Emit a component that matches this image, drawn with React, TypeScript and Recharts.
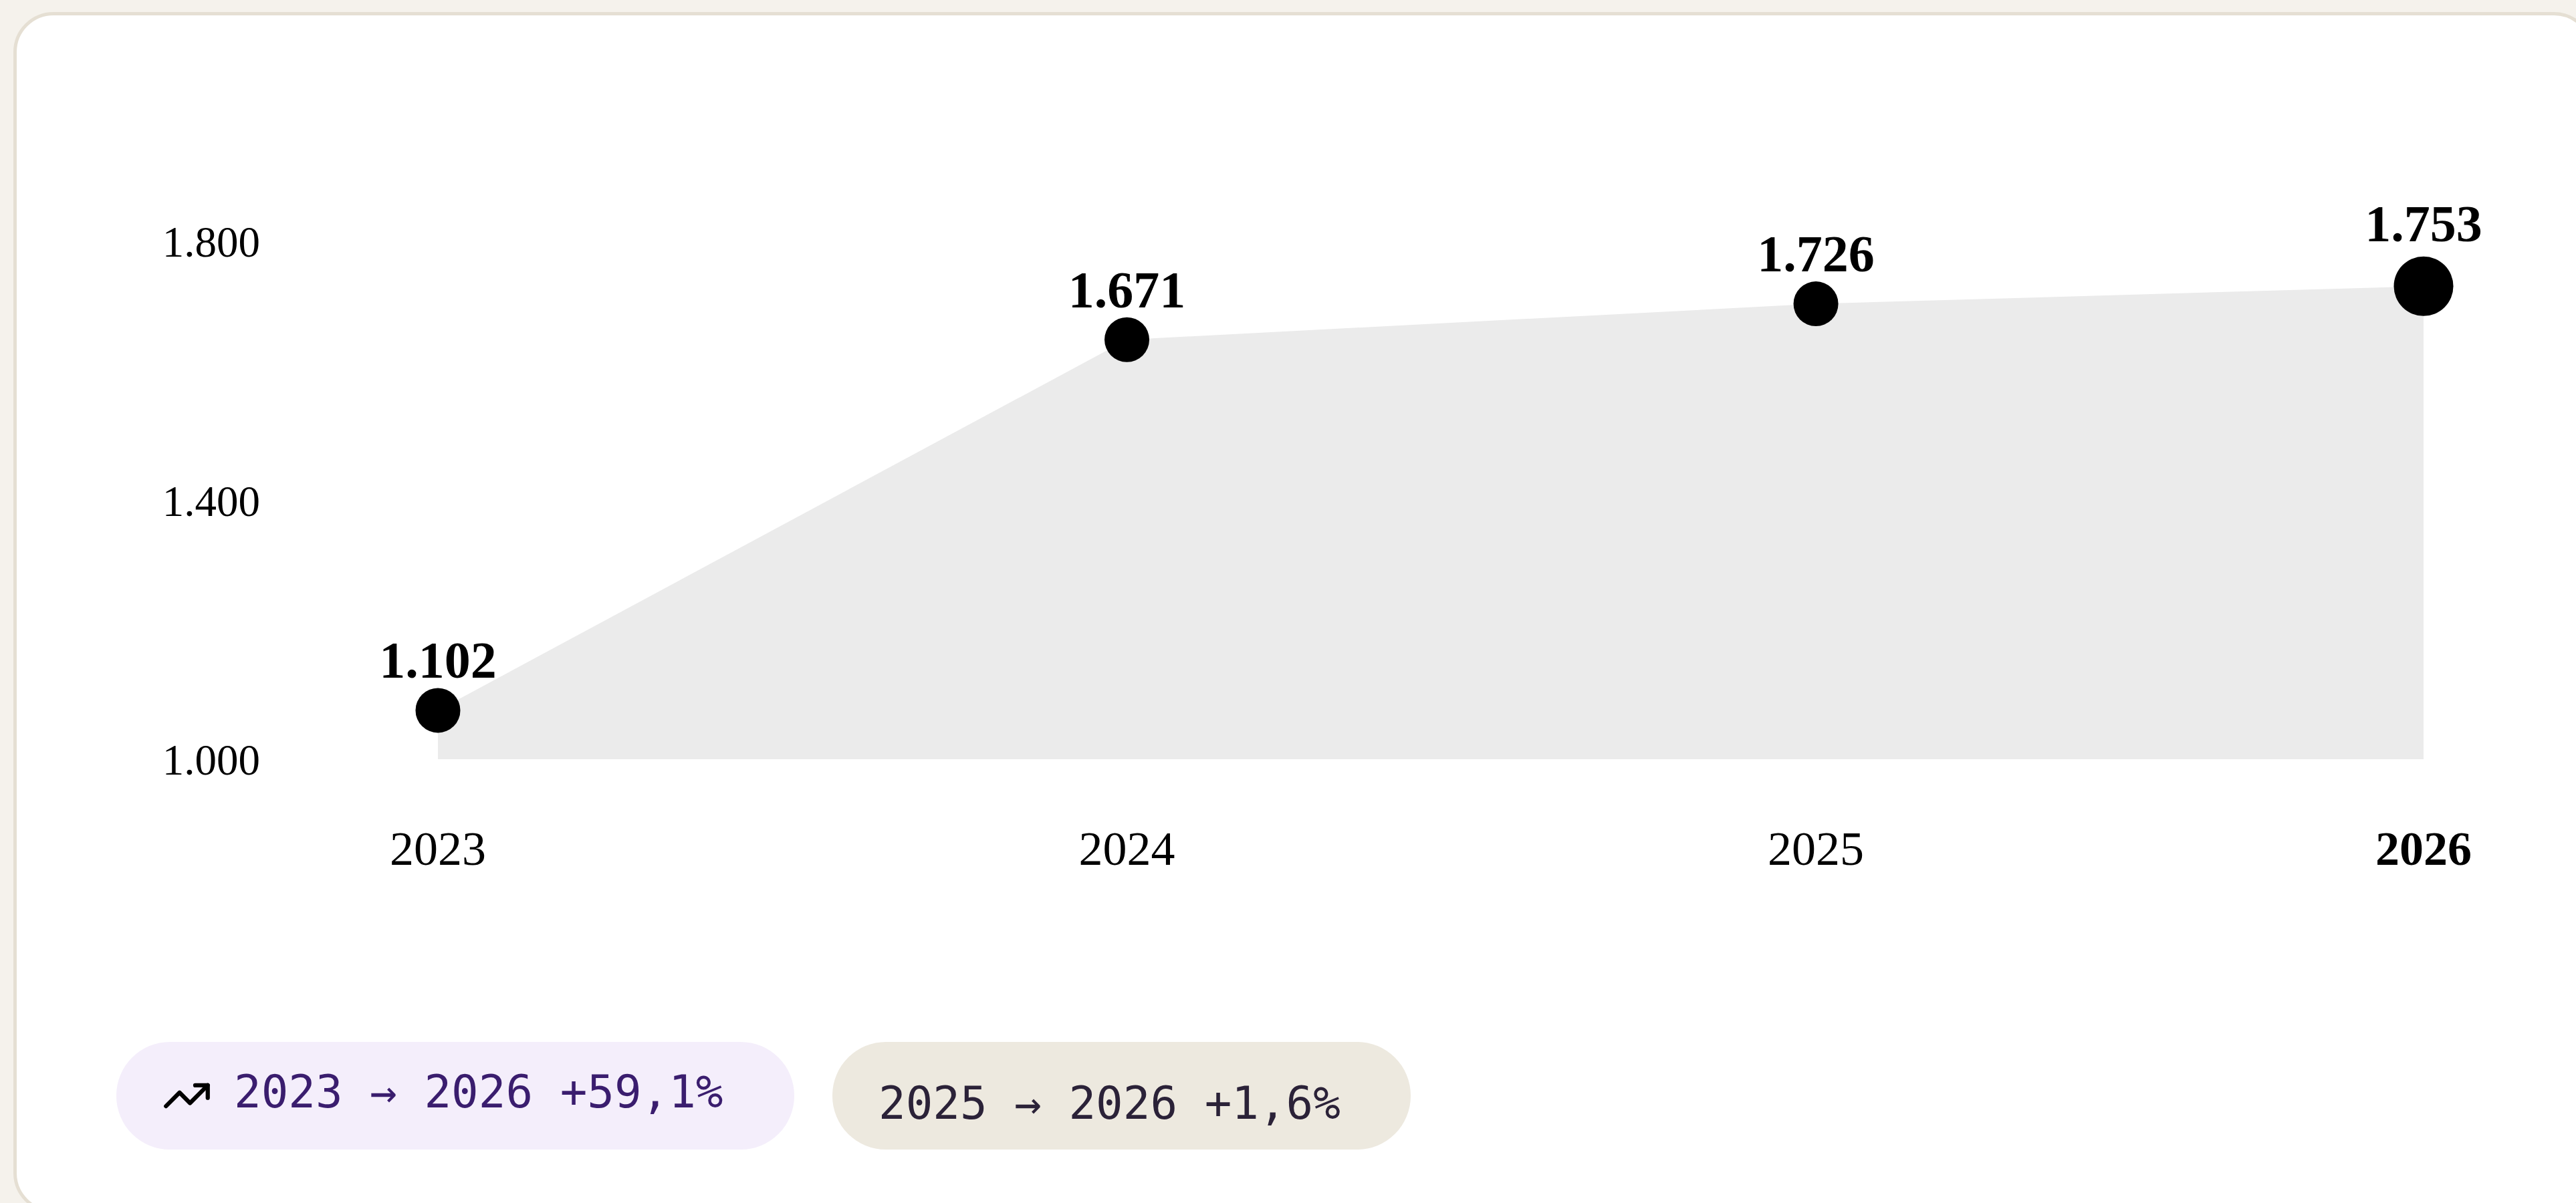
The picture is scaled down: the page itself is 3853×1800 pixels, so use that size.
import React from 'react';
import { AreaChart, Area, XAxis, YAxis, LabelList } from 'recharts';

const years = ['2023', '2024', '2025', '2026'];
const values = [1102, 1671, 1726, 1753];
// the last year sits closer to its neighbour in the reference
const yearSlots = [2023, 2024, 2025, 2025.882];
const yTicks = [1000, 1400, 1800];

const data = years.map((year, i) => ({ year, slot: yearSlots[i], value: values[i] }));

const SERIF = '"Liberation Serif", serif';
const MONO = '"DejaVu Sans Mono", monospace';
const lastIndex = years.length - 1;

const formatValue = (v: number) => v.toLocaleString('de-DE');

const YearTick = ({ x, y, index }: any) => (
  <text
    x={x}
    y={y}
    dy="0.355em"
    textAnchor="middle"
    fontFamily={SERIF}
    fontSize={72}
    fontWeight={index === lastIndex ? 700 : 400}
    fill="#000"
  >
    {years[index]}
  </text>
);

const PointDot = ({ cx, cy, index }: any) => (
  <circle key={index} cx={cx} cy={cy} r={index === lastIndex ? 44.5 : 33.5} fill="#000" />
);

const PointLabel = ({ x, y, value, index }: any) => (
  <text
    x={x}
    y={y - (index === lastIndex ? 67 : 48.5)}
    textAnchor="middle"
    fontFamily={SERIF}
    fontSize={78}
    fontWeight={700}
    fill="#000"
  >
    {formatValue(value)}
  </text>
);

const pillStyle: React.CSSProperties = {
  position: 'absolute',
  top: 1559,
  height: 161,
  borderRadius: 80,
  boxSizing: 'border-box',
};

const pillText: React.CSSProperties = {
  position: 'absolute',
  fontFamily: MONO,
  fontSize: 67.5,
  lineHeight: '80px',
  whiteSpace: 'pre',
};

export default function App() {
  return (
    <div style={{ position: 'relative', width: 3853, height: 1800, overflow: 'hidden', background: '#f5f2ec' }}>
      <style>{'body{margin:0}'}</style>
      <div
        style={{
          position: 'absolute',
          left: 20,
          top: 18,
          width: 3860,
          height: 1797,
          boxSizing: 'border-box',
          background: '#fff',
          border: '5px solid #e5dfd3',
          borderRadius: 60,
        }}
      />
      <div style={{ position: 'absolute', left: 1, top: 0 }}>
        <AreaChart width={3853} height={1500} data={data} margin={{ top: 361, right: 229, bottom: 0, left: 0 }}>
          <XAxis
            dataKey="slot"
            type="number"
            domain={[yearSlots[0], yearSlots[lastIndex]]}
            ticks={yearSlots}
            interval={0}
            height={364}
            axisLine={false}
            tickLine={false}
            tickSize={0}
            tickMargin={132}
            tick={YearTick}
          />
          <YAxis
            yAxisId="ticks"
            width={654}
            type="number"
            domain={[yTicks[0], yTicks[yTicks.length - 1]]}
            ticks={yTicks}
            interval={0}
            axisLine={false}
            tickLine={false}
            tickSize={0}
            tickMargin={206}
            tickFormatter={formatValue}
            tick={{ fontFamily: SERIF, fontSize: 65, fill: '#000' }}
          />
          {/* the reference plots its points a little off the printed axis */}
          <YAxis yAxisId="series" hide type="number" domain={[1027, 1822]} />
          {/* invisible, only keeps the printed axis alive */}
          <Area
            yAxisId="ticks"
            type="linear"
            dataKey="value"
            stroke="none"
            fill="none"
            isAnimationActive={false}
            dot={false}
            activeDot={false}
          />
          <Area
            yAxisId="series"
            type="linear"
            dataKey="value"
            stroke="none"
            fill="#ebebeb"
            fillOpacity={1}
            isAnimationActive={false}
            dot={PointDot}
            activeDot={false}
          >
            <LabelList dataKey="value" content={PointLabel} />
          </Area>
        </AreaChart>
      </div>

      <div style={{ ...pillStyle, left: 174, width: 1014, background: '#f4eefb' }}>
        <svg
          style={{ position: 'absolute', left: 68, top: 43 }}
          width={75}
          height={75}
          viewBox="0 0 24 24"
          fill="none"
          stroke="#000"
          strokeWidth={2}
          strokeLinecap="round"
          strokeLinejoin="round"
        >
          <polyline points="22 7 13.5 15.5 8.5 10.5 2 17" />
          <polyline points="16 7 22 7 22 13" />
        </svg>
        <span style={{ ...pillText, left: 176, top: 35, color: '#3a1d6e' }}>2023 → 2026 +59,1%</span>
      </div>
      <div style={{ ...pillStyle, left: 1245, width: 865, background: '#ede9df' }}>
        <span style={{ ...pillText, left: 69, top: 52, color: '#2b2238' }}>2025 → 2026 +1,6%</span>
      </div>
    </div>
  );
}
